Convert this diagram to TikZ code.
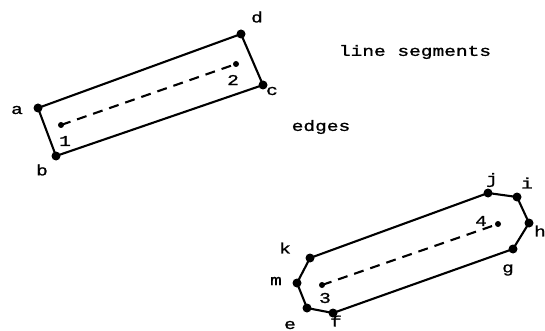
\documentclass[tikz,border=0pt]{standalone}
\usepackage{fontspec}
\newfontfamily\plotfont[FakeStretch=1.3,FakeBold=1.2]{Liberation Mono}
\begin{document}
\begin{tikzpicture}[x=1pt,y=-1pt,
  vtx/.style={circle,fill=black,inner sep=0pt,minimum size=9pt},
  endpt/.style={circle,fill=black,inner sep=0pt,minimum size=6pt},
  edge/.style={line width=2.1pt,line join=round},
  seg/.style={line width=2.1pt,dash pattern=on 10pt off 7pt},
  lbl/.style={font=\plotfont\fontsize{15}{15}\selectfont,inner sep=0pt}]
\useasboundingbox (0,0) rectangle (545,331);
% top rectangle
\node[vtx] (a) at (38,108) {};
\node[vtx] (b) at (56,156) {};
\node[vtx] (c) at (263,85) {};
\node[vtx] (d) at (241,34) {};
\draw[edge] (a.center) -- (b.center) -- (c.center) -- (d.center) -- cycle;
\node[endpt] (p1) at (61,125) {};
\node[endpt] (p2) at (236,64) {};
\draw[seg] (p1.center) -- (p2.center);
\node[lbl] (la) at (17,110) {a};
\node[lbl] (lb) at (42,170) {b};
\node[lbl] (lc) at (272,91) {c};
\node[lbl] (ld) at (257,17) {d};
\node[lbl] (l1) at (65,141) {1};
\node[lbl] (l2) at (233,80) {2};
% octagon
\node[vtx] (j) at (488,193) {};
\node[vtx] (i) at (517,197) {};
\node[vtx] (h) at (529,223) {};
\node[vtx] (g) at (513,249) {};
\node[vtx] (f) at (333,313) {};
\node[vtx] (e) at (307,308) {};
\node[vtx] (m) at (297,283) {};
\node[vtx] (k) at (310,258) {};
\draw[edge] (j.center) -- (i.center) -- (h.center) -- (g.center) -- (f.center) -- (e.center) -- (m.center) -- (k.center) -- cycle;
\node[endpt] (p3) at (322,285) {};
\node[endpt] (p4) at (498,224) {};
\draw[seg] (p3.center) -- (p4.center);
\node[lbl] (lj) at (492,180) {j};
\node[lbl] (li) at (527,183) {i};
\node[lbl] (lh) at (540,231) {h};
\node[lbl] (lg) at (508,270) {g};
\node[lbl] (lf) at (336,321) {f};
\node[lbl] (le) at (290,325) {e};
\node[lbl] (lm) at (276,281) {m};
\node[lbl] (lk) at (285,248) {k};
\node[lbl] (l3) at (325,298) {3};
\node[lbl] (l4) at (481,221) {4};
% texts
\node[lbl] (t1) at (415,52) {line segments};
\node[lbl] (t2) at (321,127) {edges};
\end{tikzpicture}
\end{document}
